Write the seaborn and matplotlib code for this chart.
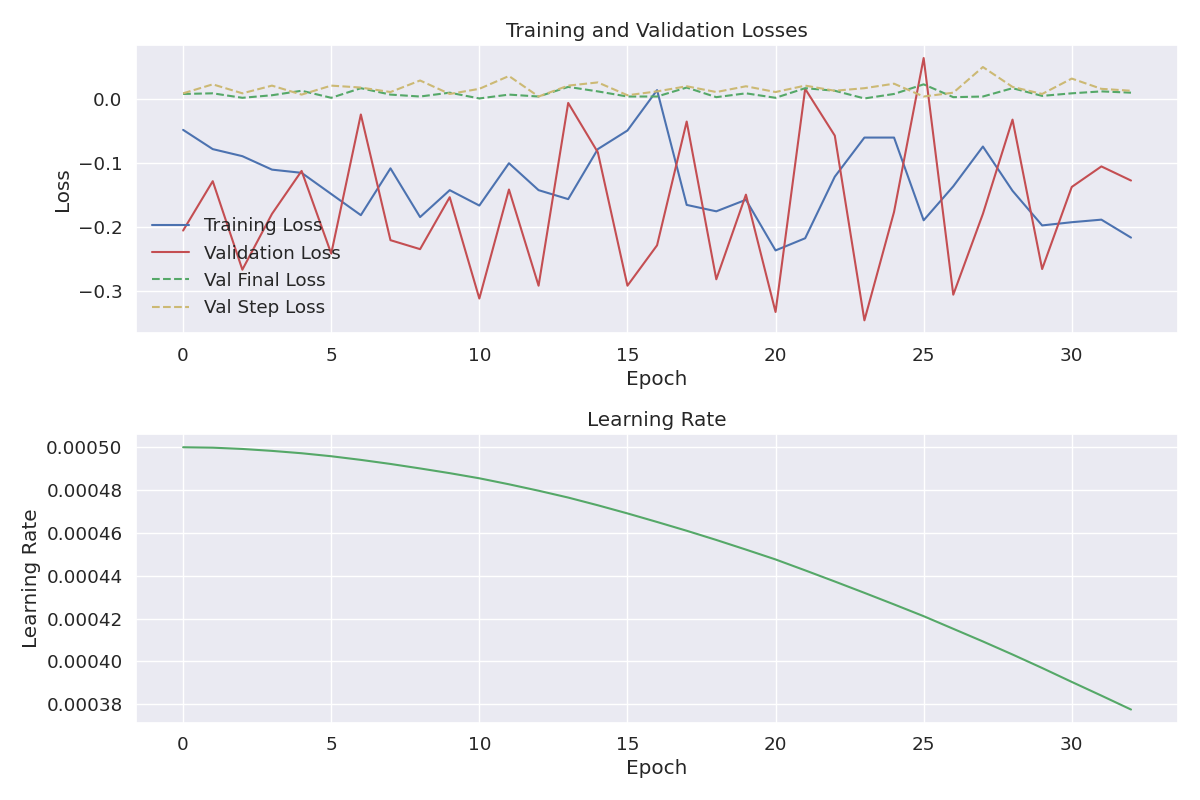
import numpy as np
import matplotlib
matplotlib.use("Agg")
import matplotlib.pyplot as plt
import seaborn as sns

# -----------------------------
# Data
# -----------------------------
epochs = list(range(33))

train_loss = [-0.048, -0.078, -0.089, -0.110, -0.115, -0.148, -0.181, -0.108,
              -0.184, -0.142, -0.166, -0.100, -0.142, -0.156, -0.078, -0.049,
              0.014, -0.165, -0.175, -0.157, -0.236, -0.217, -0.121, -0.060,
              -0.060, -0.189, -0.136, -0.074, -0.143, -0.197, -0.192, -0.188,
              -0.216]

val_loss = [-0.205, -0.128, -0.266, -0.179, -0.112, -0.241, -0.024, -0.220,
            -0.234, -0.153, -0.311, -0.141, -0.291, -0.006, -0.083, -0.291,
            -0.228, -0.035, -0.281, -0.149, -0.332, 0.016, -0.057, -0.345,
            -0.176, 0.064, -0.305, -0.179, -0.032, -0.265, -0.137, -0.105,
            -0.127]

val_final_loss = [0.008, 0.009, 0.002, 0.006, 0.013, 0.002, 0.017, 0.007,
                  0.004, 0.010, 0.001, 0.007, 0.004, 0.019, 0.012, 0.004,
                  0.004, 0.018, 0.003, 0.009, 0.002, 0.017, 0.013, 0.001,
                  0.008, 0.023, 0.003, 0.004, 0.017, 0.005, 0.009, 0.012,
                  0.010]

val_step_loss = [0.009, 0.023, 0.009, 0.021, 0.007, 0.021, 0.018, 0.011,
                 0.029, 0.008, 0.016, 0.036, 0.004, 0.021, 0.026, 0.006,
                 0.012, 0.020, 0.011, 0.020, 0.011, 0.021, 0.013, 0.017,
                 0.024, 0.004, 0.010, 0.050, 0.019, 0.008, 0.032, 0.016,
                 0.013]

learning_rate = [0.0005000, 0.0004998, 0.0004992, 0.0004983, 0.0004972,
                 0.0004958, 0.0004941, 0.0004922, 0.0004901, 0.0004879,
                 0.0004855, 0.0004827, 0.0004797, 0.0004765, 0.0004729,
                 0.0004691, 0.0004651, 0.0004610, 0.0004567, 0.0004522,
                 0.0004476, 0.0004425, 0.0004373, 0.0004320, 0.0004266,
                 0.0004211, 0.0004152, 0.0004093, 0.0004032, 0.0003969,
                 0.0003904, 0.0003840, 0.0003775]

# -----------------------------
# Plot
# -----------------------------
sns.set_theme(style="darkgrid", font_scale=1.2)

fig, (ax1, ax2) = plt.subplots(2, 1, figsize=(12, 8), dpi=100)

sns.lineplot(x=epochs, y=train_loss, color="b", label="Training Loss", ax=ax1)
sns.lineplot(x=epochs, y=val_loss, color="r", label="Validation Loss", ax=ax1)
sns.lineplot(x=epochs, y=val_final_loss, color="g", linestyle="--",
             label="Val Final Loss", ax=ax1)
sns.lineplot(x=epochs, y=val_step_loss, color="y", linestyle="--",
             label="Val Step Loss", ax=ax1)
ax1.set_title("Training and Validation Losses")
ax1.set_xlabel("Epoch")
ax1.set_ylabel("Loss")
ax1.legend(loc="lower left", frameon=False)

sns.lineplot(x=epochs, y=learning_rate, color="g", ax=ax2)
ax2.set_title("Learning Rate")
ax2.set_xlabel("Epoch")
ax2.set_ylabel("Learning Rate")

plt.tight_layout()
plt.savefig("out.png")
